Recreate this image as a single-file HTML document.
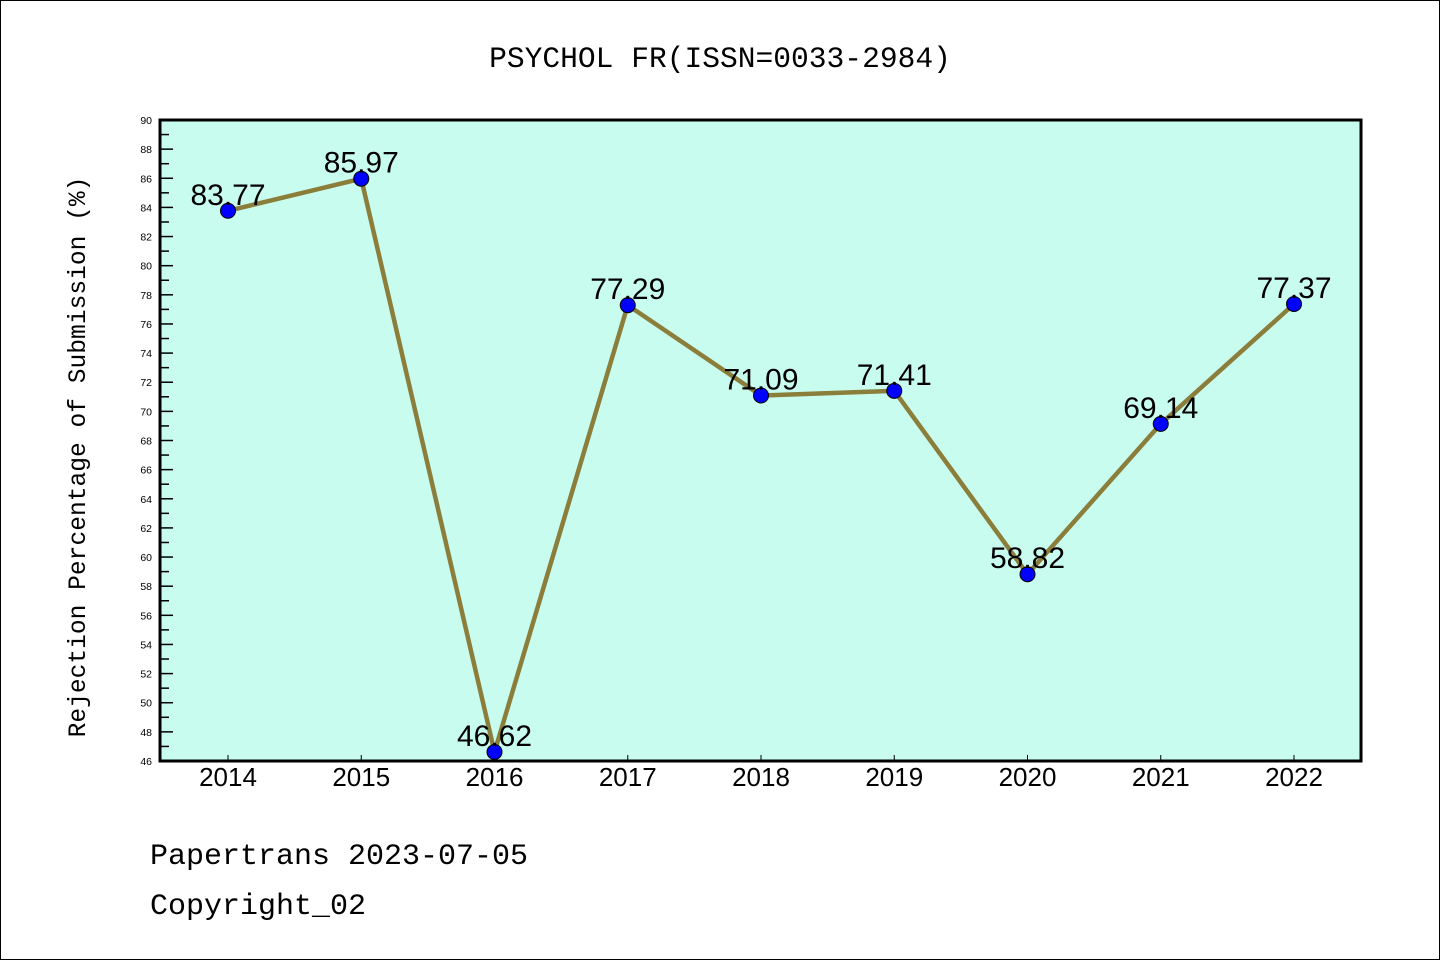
<!DOCTYPE html>
<html><head><meta charset="utf-8"><style>
html,body{margin:0;padding:0;background:#fff;}
svg{display:block;}
</style></head><body>
<svg width="1440" height="960" xmlns="http://www.w3.org/2000/svg">
<rect x="0.5" y="0.5" width="1439" height="959" fill="#fff" stroke="#000"/>
<text x="720" y="67" text-anchor="middle" font-family="Liberation Mono, monospace" font-size="29.6">PSYCHOL FR(ISSN=0033-2984)</text>
<rect x="160" y="120" width="1201" height="641" fill="#c8fcef"/>
<g id="yticks"></g>
<g id="xticks"></g>
<g id="series"></g>
<rect x="160" y="120" width="1201" height="641" fill="none" stroke="#000" stroke-width="3"/>
<text transform="translate(85,457) rotate(-90)" text-anchor="middle" font-family="Liberation Mono, monospace" font-size="24.6">Rejection Percentage of Submission (%)</text>
<text x="150" y="864" font-family="Liberation Mono, monospace" font-size="30">Papertrans 2023-07-05</text>
<text x="150" y="914" font-family="Liberation Mono, monospace" font-size="30">Copyright_02</text>
</svg>
<script>
const years=['2014','2015','2016','2017','2018','2019','2020','2021','2022'];
const values=[83.77,85.97,46.62,77.29,71.09,71.41,58.82,69.14,77.37];
const valueLabels=['83.77','85.97','46.62','77.29','71.09','71.41','58.82','69.14','77.37'];
const yMin=46,yMax=90;
const NS='http://www.w3.org/2000/svg';
const L=160,R=1361,T=120,B=761;
const x0=228,step=(1294-228)/8;
function xs(i){return x0+i*step;}
function ys(v){return B-(v-yMin)/(yMax-yMin)*(B-T);}
function mk(tag,attrs,parent){const e=document.createElementNS(NS,tag);for(const k in attrs)e.setAttribute(k,attrs[k]);parent.appendChild(e);return e;}
const yg=document.getElementById('yticks');
for(let v=yMin;v<=yMax;v++){
  const y=ys(v);const major=(v%2===0);
  const t=mk('line',{x1:L,x2:L+(major?13:9),y1:y,y2:y,stroke:'#000','stroke-width':1.5},yg);
  
  
  if(major){
    const tx=mk('text',{x:152,y:y+4,'text-anchor':'end','font-family':'Liberation Sans, sans-serif','font-size':10.5},yg);
    tx.textContent=String(v);
    
    
  }
}
const xg=document.getElementById('xticks');
years.forEach((yr,i)=>{
  const x=xs(i);
  const t=mk('line',{x1:x,x2:x,y1:B,y2:B-6,stroke:'#000','stroke-width':1},xg);
  
  
  const tx=mk('text',{x:x,y:B+25,'text-anchor':'middle','font-family':'Liberation Sans, sans-serif','font-size':26},xg);
  tx.textContent=yr;
  
  
});
const sg=document.getElementById('series');
const pts=values.map((v,i)=>xs(i)+','+ys(v)).join(' ');
const pl=mk('polyline',{points:pts,fill:'none',stroke:'#8b7d3a','stroke-width':4.5,'stroke-linejoin':'round'},sg);


values.forEach((v,i)=>{
  const c=mk('circle',{cx:xs(i),cy:ys(v),r:7.5,fill:'#0000ff',stroke:'#000','stroke-width':1},sg);
  
  
  const tx=mk('text',{x:xs(i),y:ys(v)-6,'text-anchor':'middle','font-family':'Liberation Sans, sans-serif','font-size':30},sg);
  tx.textContent=valueLabels[i];
  
  
});
</script>
</body></html>
